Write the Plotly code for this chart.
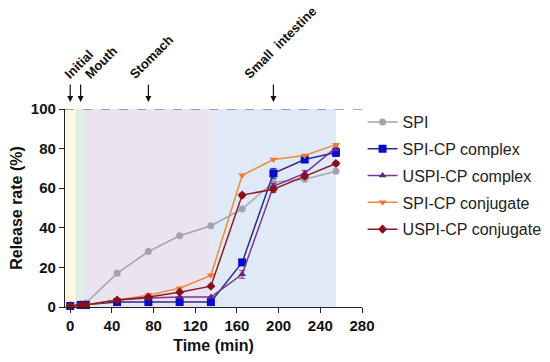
import plotly.graph_objects as go

time_min = [0, 10, 15, 45, 75, 105, 135, 165, 195, 225, 255]

spi = [1.0, 1.5, 2.0, 17.0, 28.0, 36.0, 41.0, 49.5, 63.0, 64.5, 68.5]
spi_cp_complex = [0.5, 1.0, 1.0, 2.5, 2.5, 2.5, 2.5, 22.5, 67.5, 74.5, 78.0]
uspi_cp_complex = [0.5, 1.0, 1.0, 3.5, 4.5, 5.0, 5.0, 16.5, 61.0, 67.5, 80.5]
spi_cp_conjugate = [0.5, 1.0, 1.0, 3.5, 6.0, 9.5, 16.0, 66.5, 74.5, 76.5, 82.0]
uspi_cp_conjugate = [0.5, 1.0, 1.0, 3.5, 5.0, 7.5, 10.5, 56.5, 59.5, 66.0, 72.5]

err_spi_cp_complex = [0, 0, 0, 0, 0, 0, 0, 1.5, 2.5, 1.0, 2.0]
err_uspi_cp_complex = [0, 0, 0, 0, 0, 0, 0, 2.0, 1.5, 1.5, 1.5]
err_uspi_cp_conjugate = [0, 0, 0, 0, 0, 0, 0, 1.0, 1.5, 1.0, 1.0]

series_names = ["SPI", "SPI-CP complex", "USPI-CP complex", "SPI-CP conjugate", "USPI-CP conjugate"]

phase_starts = [-5, 5, 14, 135]
phase_ends = [5, 14, 135, 255]
phase_colors = ["#fbf9df", "#ddefe6", "#ece3f1", "#e0eaf6"]

arrow_times = [0, 10, 75, 195]
arrow_labels = ["Initial", "Mouth", "Stomach", "Small  intestine"]
label_times = [-4.5, 15, 58, 168]   # where each rotated phase label starts

FONT = "Arial, Liberation Sans, sans-serif"

fig = go.Figure()

for x0, x1, c in zip(phase_starts, phase_ends, phase_colors):
    fig.add_shape(type="rect", xref="x", yref="y", x0=x0, x1=x1, y0=0, y1=100,
                  fillcolor=c, line_width=0, layer="below")

fig.add_shape(type="line", xref="paper", yref="y", x0=0, x1=1, y0=100, y1=100,
              line=dict(color="#555555", width=1, dash="dash"), layer="above")

styles = [
    (spi, None, "#a3a3ab", "#a3a3ab", "circle", 7),
    (spi_cp_complex, err_spi_cp_complex, "#2b2b8c", "#0a0acc", "square", 8),
    (uspi_cp_complex, err_uspi_cp_complex, "#7b3594", "#6a1f8a", "triangle-up", 7),
    (spi_cp_conjugate, None, "#ef8a3c", "#f07a2a", "triangle-down", 7),
    (uspi_cp_conjugate, err_uspi_cp_conjugate, "#8c1c24", "#8a0f1a", "diamond", 7),
]

for name, (vals, err, lc, mc, sym, sz) in zip(series_names, styles):
    ey = None
    if err is not None:
        ey = dict(type="data", array=err, visible=True, color=lc, thickness=1, width=3)
    fig.add_trace(go.Scatter(
        x=time_min, y=vals, name=name, mode="lines+markers",
        line=dict(color=lc, width=1.5),
        marker=dict(color=mc, symbol=sym, size=sz),
        error_y=ey, cliponaxis=False, legendgroup=name,
    ))

fig.add_trace(go.Scatter(x=label_times, y=[None] * len(label_times), xaxis="x2",
                         mode="markers", showlegend=False, hoverinfo="skip"))

for t in arrow_times:
    fig.add_annotation(x=t, y=100, xref="x", yref="y", text="", showarrow=True,
                       arrowhead=2, arrowsize=1, arrowwidth=1.2, arrowcolor="#111111",
                       ax=0, ay=-26, standoff=7)

fig.update_layout(
    width=542, height=354,
    margin=dict(l=57, r=188, t=101, b=55, autoexpand=False),
    paper_bgcolor="white", plot_bgcolor="white",
    font=dict(family=FONT, color="#111111"),
    legend=dict(x=1.002, y=1.02, xanchor="left", yanchor="top",
                font=dict(family=FONT, size=16, color="#222222"),
                bgcolor="rgba(0,0,0,0)", tracegroupgap=3, itemwidth=30),
    showlegend=True,
    xaxis2=dict(
        overlaying="x", side="top", anchor="y",
        range=[-5, 280],
        tickvals=label_times, ticktext=["<b>" + s + "</b>" for s in arrow_labels],
        tickangle=-45, ticks="", showline=False, showgrid=False, zeroline=False,
        ticklabelstandoff=24, automargin=False,
        tickfont=dict(family=FONT, size=13, color="#111111"),
    ),
)

fig.layout.xaxis.update(
    range=[-5, 280], tickvals=[0, 40, 80, 120, 160, 200, 240, 280],
    showgrid=False, zeroline=False, showline=True, linecolor="#222222", linewidth=1.2,
    ticks="outside", ticklen=5, tickcolor="#222222", automargin=False,
    tickfont=dict(family=FONT, size=15, color="#111111", weight="bold"),
    title=dict(text="<b>Time (min)</b>", font=dict(family=FONT, size=16), standoff=6),
)
fig.update_yaxes(
    range=[0, 100], tickvals=[0, 20, 40, 60, 80, 100],
    showgrid=False, zeroline=False, showline=True, linecolor="#222222", linewidth=1.2,
    ticks="outside", ticklen=5, tickcolor="#222222", automargin=False,
    tickfont=dict(family=FONT, size=15, color="#111111", weight="bold"),
    title=dict(text="<b>Release rate (%)</b>", font=dict(family=FONT, size=16), standoff=10),
)

fig.write_html("out.html")
